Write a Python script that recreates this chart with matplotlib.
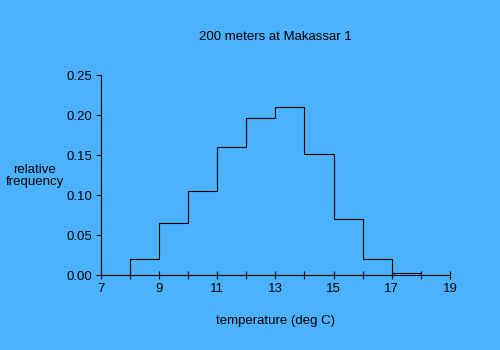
import matplotlib
matplotlib.use("Agg")
import matplotlib.pyplot as plt

# bin edges (deg C) and relative frequency per bin
bin_edges = [8, 9, 10, 11, 12, 13, 14, 15, 16, 17, 18]
rel_freq = [0.021, 0.065, 0.105, 0.160, 0.196, 0.210, 0.151, 0.070, 0.020, 0.003]

x_major = [7, 9, 11, 13, 15, 17, 19]
x_minor = [8, 10, 12, 14, 16, 18]
y_ticks = [0.0, 0.05, 0.10, 0.15, 0.20, 0.25]

bg = "#4cb2fe"
plt.rcParams["font.family"] = ["Liberation Sans", "DejaVu Sans"]

fig = plt.figure(figsize=(5, 3.5), dpi=100, facecolor=bg)
ax = fig.add_axes([0.2013, 0.2134, 0.6987, 0.5716])
ax.set_facecolor(bg)

ax.stairs(rel_freq, bin_edges, color="black", linewidth=0.8)

ax.set_xlim(7, 19)
ax.set_ylim(0, 0.25)
ax.set_xticks(x_major)
ax.set_xticks(x_minor, minor=True)
ax.set_yticks(y_ticks)
ax.set_yticklabels(["%.2f" % v for v in y_ticks])

for s in ["top", "right"]:
    ax.spines[s].set_visible(False)
for s in ["left", "bottom"]:
    ax.spines[s].set_linewidth(0.8)

ax.tick_params(axis="x", which="both", direction="inout", length=5.5, width=0.8,
               pad=3.0, labelsize=9.5)
ax.tick_params(axis="y", direction="out", length=3.4, width=0.8, pad=2.7,
               labelsize=9.5)

fig.text(0.55, 0.894, "200 meters at Makassar 1", ha="center", va="center", fontsize=9.5)
fig.text(0.55, 0.083, "temperature (deg C)", ha="center", va="center", fontsize=9.5)
fig.text(0.07, 0.497, "relative\nfrequency", ha="center", va="center", fontsize=9.5,
         linespacing=1.0)

fig.savefig("out.png", dpi=100, facecolor=bg)
